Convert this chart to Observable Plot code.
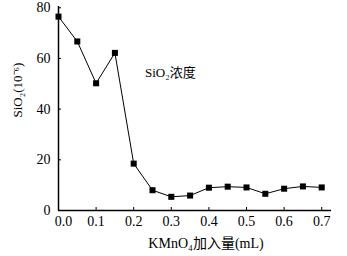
<!DOCTYPE html>
<html><head><meta charset="utf-8">
<script src="https://cdn.jsdelivr.net/npm/d3@7"></script>
<script src="https://cdn.jsdelivr.net/npm/@observablehq/plot@0.6"></script>
<style>
body{margin:0;background:#fff}
</style>
</head><body><div id="chart"></div>
<script>
const kmno4 = [0, 0.05, 0.1, 0.15, 0.2, 0.25, 0.3, 0.35, 0.4, 0.45, 0.5, 0.55, 0.6, 0.65, 0.7];
const sio2 = [76.5, 66.7, 50.2, 62.2, 18.5, 8.0, 5.4, 5.9, 9.0, 9.4, 9.1, 6.6, 8.6, 9.5, 9.1];
const xTicks = [0, 0.1, 0.2, 0.3, 0.4, 0.5, 0.6, 0.7];
const yTicks = [0, 20, 40, 60, 80];
const yLabel = "SiO₂(10⁻⁶)";
const xLabel = "KMnO₄加入量(mL)";
const note = {x: 0.23, y: 54.5, text: "SiO₂浓度"};

const data = kmno4.map((x, i) => ({x, y: sio2[i]}));
const ff = "'Liberation Serif', 'Noto Sans CJK SC'";

const chart = Plot.plot({
  width: 347, height: 256,
  marginLeft: 58, marginRight: 16, marginTop: 6, marginBottom: 46,
  style: {fontFamily: ff, fontSize: "14px", background: "#fff", color: "#000"},
  x: {domain: [0, 0.726]},
  y: {domain: [0, 80.5]},
  marks: [
    Plot.ruleX([0], {stroke: "#000", strokeWidth: 1.5}),
    Plot.ruleY([0], {stroke: "#000", strokeWidth: 1.5}),
    Plot.axisX({ticks: xTicks, tickSize: 3, dy: -3, tickFormat: () => "", label: null}),
    Plot.axisY({ticks: yTicks, tickSize: 3, dx: 3, tickFormat: () => "", label: null}),
    Plot.axisX({ticks: xTicks.slice(0, 1), tickSize: 0, tickPadding: 6, dx: 5, tickFormat: d3.format(".1f"), label: null, fontFamily: ff, fontSize: 14}),
    Plot.axisX({ticks: xTicks.slice(1), tickSize: 0, tickPadding: 6, tickFormat: d3.format(".1f"), label: null, fontFamily: ff, fontSize: 14}),
    Plot.axisY({ticks: yTicks, tickSize: 0, tickPadding: 8, label: null, fontFamily: ff, fontSize: 14}),
    Plot.line(data, {x: "x", y: "y", stroke: "#000", strokeWidth: 1}),
    Plot.dot(data, {x: "x", y: "y", symbol: "square", r: 3.4, fill: "#000", stroke: "none"}),
    Plot.text([note], {x: "x", y: "y", text: "text", textAnchor: "start", fontSize: 13, fontFamily: ff}),
    Plot.text([yLabel], {frameAnchor: "left", dx: -41, dy: 9, rotate: -90, fontSize: 13, fontFamily: ff}),
    Plot.text([xLabel], {frameAnchor: "bottom", dx: 11, dy: 37, fontSize: 14, fontFamily: ff})
  ]
});
document.getElementById("chart").appendChild(chart);
</script>
</body></html>
